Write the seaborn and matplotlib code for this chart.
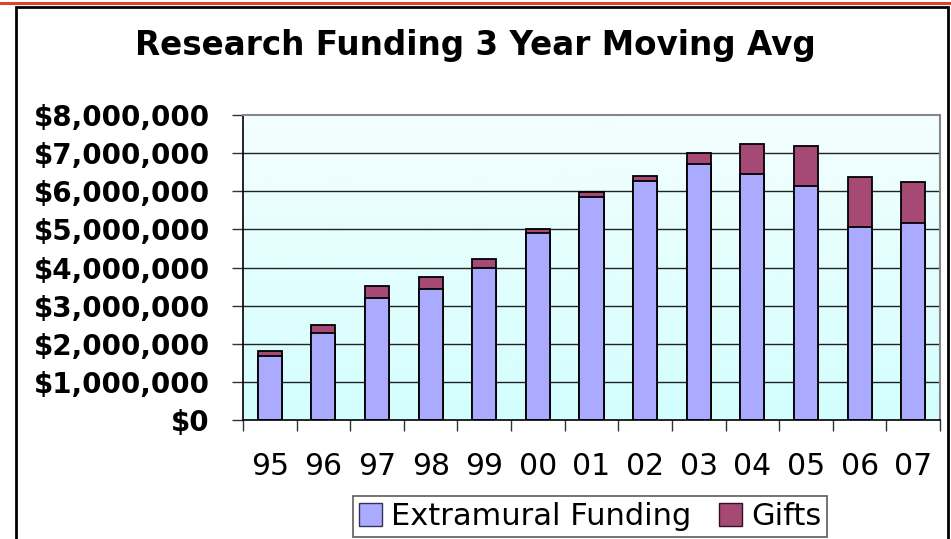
import numpy as np
import pandas as pd
import matplotlib
matplotlib.use("Agg")
import matplotlib.pyplot as plt
import seaborn as sns
from matplotlib.patches import Patch, Rectangle
from matplotlib.lines import Line2D
from matplotlib.ticker import FuncFormatter, FixedLocator
from matplotlib.colors import LinearSegmentedColormap

years = ["95", "96", "97", "98", "99", "00", "01", "02", "03", "04", "05", "06", "07"]
extramural = [1690000, 2280000, 3200000, 3440000, 3990000, 4900000, 5860000,
              6280000, 6720000, 6440000, 6130000, 5070000, 5170000]
gifts = [130000, 210000, 310000, 310000, 240000, 120000, 130000,
         130000, 290000, 810000, 1060000, 1300000, 1080000]
y_ticks = [0, 1000000, 2000000, 3000000, 4000000, 5000000, 6000000, 7000000, 8000000]

c_ext = "#AAAAFF"
c_gift = "#A64A75"

sns.set_theme(style="white")
plt.rcParams["font.family"] = ["DejaVu Sans"]
plt.rcParams["text.color"] = "black"

df = pd.DataFrame({"year": years, "ext": extramural, "gift": gifts})
df["total"] = df["ext"] + df["gift"]

fig = plt.figure(figsize=(9.51, 5.39), dpi=100)
W, H = 951, 539
ax = fig.add_axes([243 / W, 1 - 420 / H, (940 - 243) / W, (420 - 115) / H])

# gradient background
grad = np.linspace(0, 1, 256).reshape(-1, 1)
cmap = LinearSegmentedColormap.from_list("bg", ["#D3FEFE", "#F4FEFE"])
ax.imshow(grad, aspect="auto", cmap=cmap, origin="lower",
          extent=[-0.5, len(years) - 0.5, 0, 8000000], zorder=0)

for yv in y_ticks[1:-1]:
    ax.axhline(yv, color="#222222", lw=1.0, zorder=1)

sns.barplot(data=df, x="year", y="total", order=years, color=c_gift, width=0.45,
            edgecolor="black", linewidth=1.3, saturation=1, ax=ax, zorder=3)
sns.barplot(data=df, x="year", y="ext", order=years, color=c_ext, width=0.45,
            edgecolor="black", linewidth=1.3, saturation=1, ax=ax, zorder=4)

ax.set_xlim(-0.5, len(years) - 0.5)
ax.set_ylim(0, 8000000)
ax.set_xlabel("")
ax.set_ylabel("")
ax.set_yticks(y_ticks)
ax.yaxis.set_major_formatter(FuncFormatter(lambda v, p: "${:,.0f}".format(v)))
ax.tick_params(axis="y", which="major", left=True, length=8, width=1, color="#333333",
               labelsize=20, pad=16, labelcolor="black")
for lab in ax.get_yticklabels():
    lab.set_fontweight("bold")
ax.tick_params(axis="x", which="major", bottom=False, length=0, labelsize=21.5, pad=23,
               labelcolor="black")
ax.xaxis.set_minor_locator(FixedLocator([i - 0.5 for i in range(len(years) + 1)]))
ax.tick_params(axis="x", which="minor", bottom=True, length=8, width=1, color="#333333",
               direction="out")

for s in ["top", "right"]:
    ax.spines[s].set_color("#888888")
    ax.spines[s].set_linewidth(1.5)
for s in ["left", "bottom"]:
    ax.spines[s].set_color("black")
    ax.spines[s].set_linewidth(1.2)
ax.spines["bottom"].set_zorder(6)

fig.text(0.5, 1 - 45 / H, "Research Funding 3 Year Moving Avg", ha="center", va="center",
         fontsize=23.5, fontweight="bold", color="black")

handles = [Patch(facecolor=c_ext, edgecolor="#333355", label="Extramural Funding"),
           Patch(facecolor=c_gift, edgecolor="#331122", label="Gifts")]
leg = fig.legend(handles=handles, loc="upper center", bbox_to_anchor=(590 / W, 1 - 496 / H),
                 ncol=2, frameon=True, fancybox=False, fontsize=22, handlelength=0.75,
                 handleheight=0.75, handletextpad=0.3, columnspacing=0.9, borderpad=0.2,
                 borderaxespad=0, labelcolor="black")
leg.get_frame().set_edgecolor("#333333")
leg.get_frame().set_linewidth(1.2)

# outer border and red top line
fig.add_artist(Rectangle((16 / W, -0.05), (948 - 16) / W, 1.05 - 7 / H, transform=fig.transFigure,
                         fill=False, edgecolor="black", lw=2))
fig.add_artist(Line2D([0, 1], [1 - 3 / H, 1 - 3 / H], transform=fig.transFigure,
                      color="#D8452E", lw=2.2))

fig.savefig("out.png", dpi=100)
